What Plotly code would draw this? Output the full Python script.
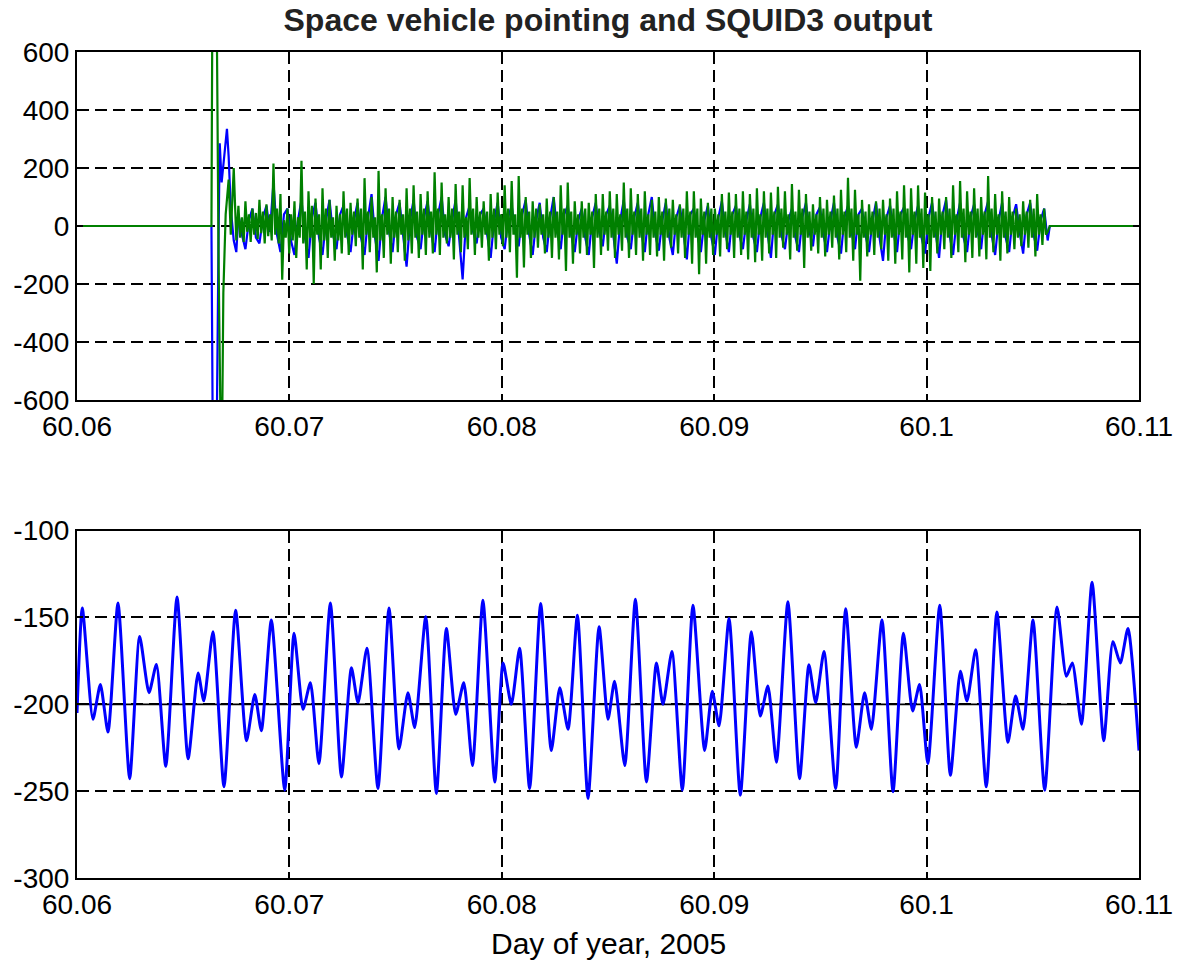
import numpy as np
import plotly.graph_objects as go

# ---------------- data ----------------
X_TICKS = [60.06, 60.07, 60.08, 60.09, 60.10, 60.11]
X_TICKTEXT = ["60.06", "60.07", "60.08", "60.09", "60.1", "60.11"]
Y1_TICKS = [-600, -400, -200, 0, 200, 400, 600]
Y1_TICKTEXT = ["-600", "-400", "-200", "0", "200", "400", "600"]
Y2_TICKS = [-300, -250, -200, -150, -100]
Y2_TICKTEXT = ["-300", "-250", "-200", "-150", "-100"]

# top panel: transient (blue = space vehicle pointing, green = SQUID3)
blue_trans_x = [60.06000, 60.06633, 60.06639, 60.06658, 60.06667, 60.06672, 60.06681,
                60.06691, 60.06706, 60.06714, 60.06724, 60.06738, 60.06750]
blue_trans_y = [0, 0, -700, -700, 0, 285, 150, 230, 335, 240, 60, -50, -90]
green_trans_x = [60.06000, 60.06633, 60.06637, 60.06658, 60.06667, 60.06676, 60.06684,
                 60.06689, 60.06700, 60.06714, 60.06724, 60.06738, 60.06750]
green_trans_y = [0, 0, 720, 720, -150, -700, -650, -230, 40, 160, -30, 200, -50]

noise_start, noise_end = 60.06760, 60.10570
end_x = [60.10580, 60.11000]
end_y = [0, 0]

green_noise = [
    70, -40, 30, -55, 85, -20, 40, -55, 60, -30, 45, -45, 90, -25, 50, -60, 75, -35, 40, -50,
    215, -30, 60, -60, 110, -185, 20, -40, 60, -95, 40, -50, 85, -110, 30, -40, 225, -60, 50, -150,
    120, -40, 70, -200, 95, -30, 40, -150, 130, -50, 60, -110, 90, -40, 30, -120, 70, -50, 40, -95,
    120, -40, 60, -100, 80, -30, 50, -70, 95, -40, 60, -150, 165, -30, 50, -90, 100, -40, 30, -160,
    190, -50, 40, -110, 130, -30, 60, -130, 100, -40, 50, -90, 90, -30, 40, -120, 130, -50, 60, -95,
    140, -40, 50, -110, 110, -30, 60, -100, 120, -40, 50, -95, 185, -30, 60, -100, 150, -40, 40, -60,
    100, -40, 60, -115, 145, -30, 50, -90, 140, -40, 30, -80, 165, -30, 60, -100, 100, -40, 50, -75,
    85, -30, 50, -120, 110, -40, 60, -80, 115, -30, 40, -70, 140, -40, 60, -90, 155, -30, 40, -178,
    172, -40, 60, -143, 100, -30, 50, -110, 85, -40, 60, -75, 75, -30, 40, -95, 95, -40, 50, -110,
    100, -40, 50, -115, 140, -30, 60, -155, 150, -40, 50, -130, 85, -30, 40, -95, 85, -40, 60, -100,
    80, -30, 50, -145, 110, -40, 60, -100, 110, -30, 50, -85, 120, -40, 60, -110, 110, -30, 40, -85,
    150, -40, 60, -110, 130, -30, 50, -100, 110, -40, 60, -120, 120, -30, 40, -100, 90, -40, 50, -105,
    100, -30, 50, -120, 95, -40, 60, -75, 90, -30, 40, -95, 75, -40, 60, -110, 120, -30, 50, -130,
    120, -40, 60, -166, 95, -30, 50, -130, 80, -40, 60, -100, 60, -30, 40, -105, 110, -40, 50, -80,
    115, -30, 50, -110, 110, -40, 60, -100, 120, -30, 50, -115, 110, -40, 60, -125, 130, -30, 40, -120,
    120, -40, 60, -95, 115, -30, 50, -110, 135, -40, 60, -75, 120, -30, 40, -115, 145, -40, 50, -85,
    125, -30, 60, -145, 110, -40, 50, -85, 75, -30, 40, -95, 100, -40, 60, -105, 90, -30, 50, -75,
    105, -40, 60, -115, 125, -30, 50, -90, 166, -40, 60, -120, 125, -30, 40, -189, 90, -40, 50, -105,
    75, -30, 50, -100, 85, -40, 60, -80, 90, -30, 40, -120, 95, -40, 60, -130, 120, -30, 50, -115,
    140, -40, 60, -160, 130, -30, 50, -130, 140, -40, 60, -145, 115, -30, 40, -155, 100, -40, 50, -95,
    95, -30, 50, -80, 100, -40, 60, -110, 140, -30, 40, -90, 155, -40, 60, -125, 120, -30, 50, -110,
    130, -40, 60, -105, 100, -30, 50, -115, 172, -40, 60, -90, 110, -30, 40, -120, 120, -40, 50, -95,
    100, -30, 50, -80, 60, -40, 40, -70, 85, -30, 50, -75, 90, -40, 60, -105, 110, -30, 40, -65, 60, -30, -20,
]
blue_noise = [
    40, -30, -80, 20, 60, -40, -60, 30, 70, -20,
    150, -30, -90, 40, 60, -50, -100, 20, 90, -40,
    -110, 30, 80, -40, -100, 20, 90, -30, -80, 40,
    70, -30, -90, 20, 80, -40, -100, 30, 110, -40,
    -120, 30, 100, -20, -90, 40, 80, -30, -140, 20,
    90, -40, -80, 30, 85, -20, -90, 40, 100, -30,
    -70, 20, 90, -40, -184, 30, 70, -20, -60, 40,
    60, -30, -110, 20, 80, -40, -80, 30, 70, -20,
    -70, 40, 90, -30, -100, 20, 80, -40, -90, 30,
    100, -20, -80, 40, 70, -30, -90, 20, 60, -40,
    -100, 30, 80, -20, -70, 40, 70, -30, -130, 20,
    90, -40, -80, 30, 80, -20, -90, 40, 100, -30,
    -85, 20, 80, -40, -100, 30, 70, -20, -115, 40,
    60, -30, -90, 20, 70, -40, -100, 30, 85, -20,
    -90, 40, 70, -30, -80, 20, 75, -40, -90, 30,
    80, -20, -110, 40, 75, -30, -80, 20, 60, -40,
    -90, 30, 80, -20, -70, 40, 65, -30, -90, 20,
    80, -40, -95, 30, 70, -20, -80, 40, 60, -30,
    -90, 20, 80, -40, -120, 30, 70, -20, -90, 40,
    65, -30, -80, 20, 70, -40, -95, 30, 80, -20,
    -110, 40, 90, -30, -100, 20, 80, -40, -90, 30,
    75, -20, -80, 40, 85, -30, -100, 20, 80, -40,
    -90, 30, 75, -20, -95, 40, 80, -30, -85, 20, 60, -50,
]

# bottom panel: SQUID3 output
squid_x = [
    60.06000, 60.06025, 60.06075, 60.06110, 60.06146, 60.06193, 60.06248, 60.06295,
    60.06339, 60.06374, 60.06418, 60.06471, 60.06523, 60.06570, 60.06597, 60.06640,
    60.06692, 60.06747, 60.06798, 60.06837, 60.06868, 60.06915, 60.06978, 60.07022,
    60.07064, 60.07099, 60.07139, 60.07193, 60.07245, 60.07292, 60.07323, 60.07365,
    60.07417, 60.07469, 60.07516, 60.07558, 60.07590, 60.07642, 60.07692, 60.07739,
    60.07783, 60.07821, 60.07862, 60.07911, 60.07967, 60.08006, 60.08045, 60.08084,
    60.08131, 60.08183, 60.08233, 60.08273, 60.08312, 60.08356, 60.08406, 60.08458,
    60.08500, 60.08531, 60.08579, 60.08629, 60.08681, 60.08728, 60.08759, 60.08801,
    60.08850, 60.08900, 60.08955, 60.08991, 60.09023, 60.09070, 60.09123, 60.09175,
    60.09217, 60.09253, 60.09293, 60.09347, 60.09402, 60.09446, 60.09478, 60.09517,
    60.09572, 60.09619, 60.09669, 60.09708, 60.09740, 60.09790, 60.09842, 60.09891,
    60.09934, 60.09967, 60.10006, 60.10062, 60.10112, 60.10159, 60.10190, 60.10231,
    60.10281, 60.10331, 60.10383, 60.10419, 60.10454, 60.10501, 60.10556, 60.10614,
    60.10658, 60.10686, 60.10729, 60.10779, 60.10834, 60.10877, 60.10912, 60.10948,
    60.11000,
]
squid_y = [
    -205, -144.5, -208.6, -188.6, -216, -141.6, -242.8, -161,
    -193.3, -177, -235.7, -138.2, -231.4, -182, -198, -158.2,
    -247.5, -145.8, -221, -194.3, -215.2, -151.5, -249.4, -159,
    -202.9, -187.6, -234.2, -141.6, -241.8, -179, -199, -167.7,
    -248.5, -144.5, -225.7, -193.3, -213.3, -149.6, -251.3, -156.3,
    -205.7, -187.6, -235.2, -140.1, -244.7, -176.2, -200, -167.7,
    -248.5, -142, -226.6, -190.5, -214.3, -148.7, -254.2, -155.3,
    -208.6, -186.7, -235.2, -139.5, -244.7, -176.2, -200, -169.6,
    -249.4, -143, -226.6, -192.4, -212.4, -150.6, -252.3, -158.2,
    -206.7, -189.5, -233.3, -141, -242.8, -177.2, -199, -169.6,
    -248.5, -144.9, -224.7, -193.3, -214.3, -151.5, -250.4, -159.1,
    -203.8, -188.6, -234.2, -143, -240.9, -181, -198.1, -168.6,
    -247.5, -146.8, -221.9, -195.2, -214.3, -151.5, -249.4, -143.9,
    -183.8, -176.2, -211.4, -129.7, -220.9, -163.9, -176.2, -156.3,
    -226.6,
]
# solid reference level drawn in the lower panel
ref_level_x = [60.06000, 60.10752]
ref_level_y = [-200, -200]

TITLE = "Space vehicle pointing and SQUID3 output"
XLABEL = "Day of year, 2005"

# ---------------- assemble series ----------------
gx = np.linspace(noise_start, noise_end, len(green_noise))
bx = np.linspace(noise_start, noise_end, len(blue_noise))
top_blue_x = blue_trans_x + list(bx) + end_x
top_blue_y = blue_trans_y + blue_noise + end_y
top_green_x = green_trans_x + list(gx) + end_x
top_green_y = green_trans_y + green_noise + end_y

FONT = "Liberation Sans, Arial, Helvetica, sans-serif"

fig = go.Figure()
fig.add_trace(go.Scatter(x=top_blue_x, y=top_blue_y, mode="lines",
                         line=dict(color="#0000ff", width=2.2),
                         xaxis="x", yaxis="y", showlegend=False))
fig.add_trace(go.Scatter(x=top_green_x, y=top_green_y, mode="lines",
                         line=dict(color="#008000", width=2.2),
                         xaxis="x", yaxis="y", showlegend=False))
fig.add_trace(go.Scatter(x=ref_level_x, y=ref_level_y, mode="lines",
                         line=dict(color="black", width=1.6),
                         xaxis="x2", yaxis="y2", showlegend=False))
fig.add_trace(go.Scatter(x=squid_x, y=squid_y, mode="lines",
                         line=dict(color="#0000ff", width=3, shape="spline", smoothing=0.6),
                         xaxis="x2", yaxis="y2", showlegend=False))

axis_common = dict(
    showgrid=True, gridcolor="black", gridwidth=1.7, griddash="12px,6px",
    ticks="inside", ticklen=6, tickwidth=1.5, tickcolor="black",
    showline=True, linecolor="black", linewidth=2, mirror="ticks",
    zeroline=False, tickfont=dict(family=FONT, size=28, color="black"),
)

fig.update_layout(
    width=1186, height=963,
    margin=dict(l=77, r=47, t=52, b=85),
    paper_bgcolor="white", plot_bgcolor="white",
    font=dict(family=FONT, color="black"),
    title=dict(text="<b>" + TITLE + "</b>", x=0.5, xref="paper", y=1 - 20 / 963,
               yref="container", yanchor="middle", xanchor="center",
               font=dict(family=FONT, size=32, color="#222")),
    xaxis=dict(domain=[0, 1], range=[60.06, 60.11], anchor="y",
               tickvals=X_TICKS, ticktext=X_TICKTEXT, **axis_common),
    yaxis=dict(domain=[0.5787, 1], range=[-600, 600], anchor="x",
               tickvals=Y1_TICKS, ticktext=Y1_TICKTEXT, **axis_common),
    xaxis2=dict(domain=[0, 1], range=[60.06, 60.11], anchor="y2",
                tickvals=X_TICKS, ticktext=X_TICKTEXT, **axis_common),
    yaxis2=dict(domain=[0, 0.4205], range=[-300, -100], anchor="x2",
                tickvals=Y2_TICKS, ticktext=Y2_TICKTEXT, **axis_common),
    annotations=[dict(text=XLABEL, x=0.5, xref="paper", y=-0.0799, yref="paper",
                      xanchor="center", yanchor="middle", showarrow=False,
                      font=dict(family=FONT, size=30, color="black"))],
)

fig.write_html("out.html")
